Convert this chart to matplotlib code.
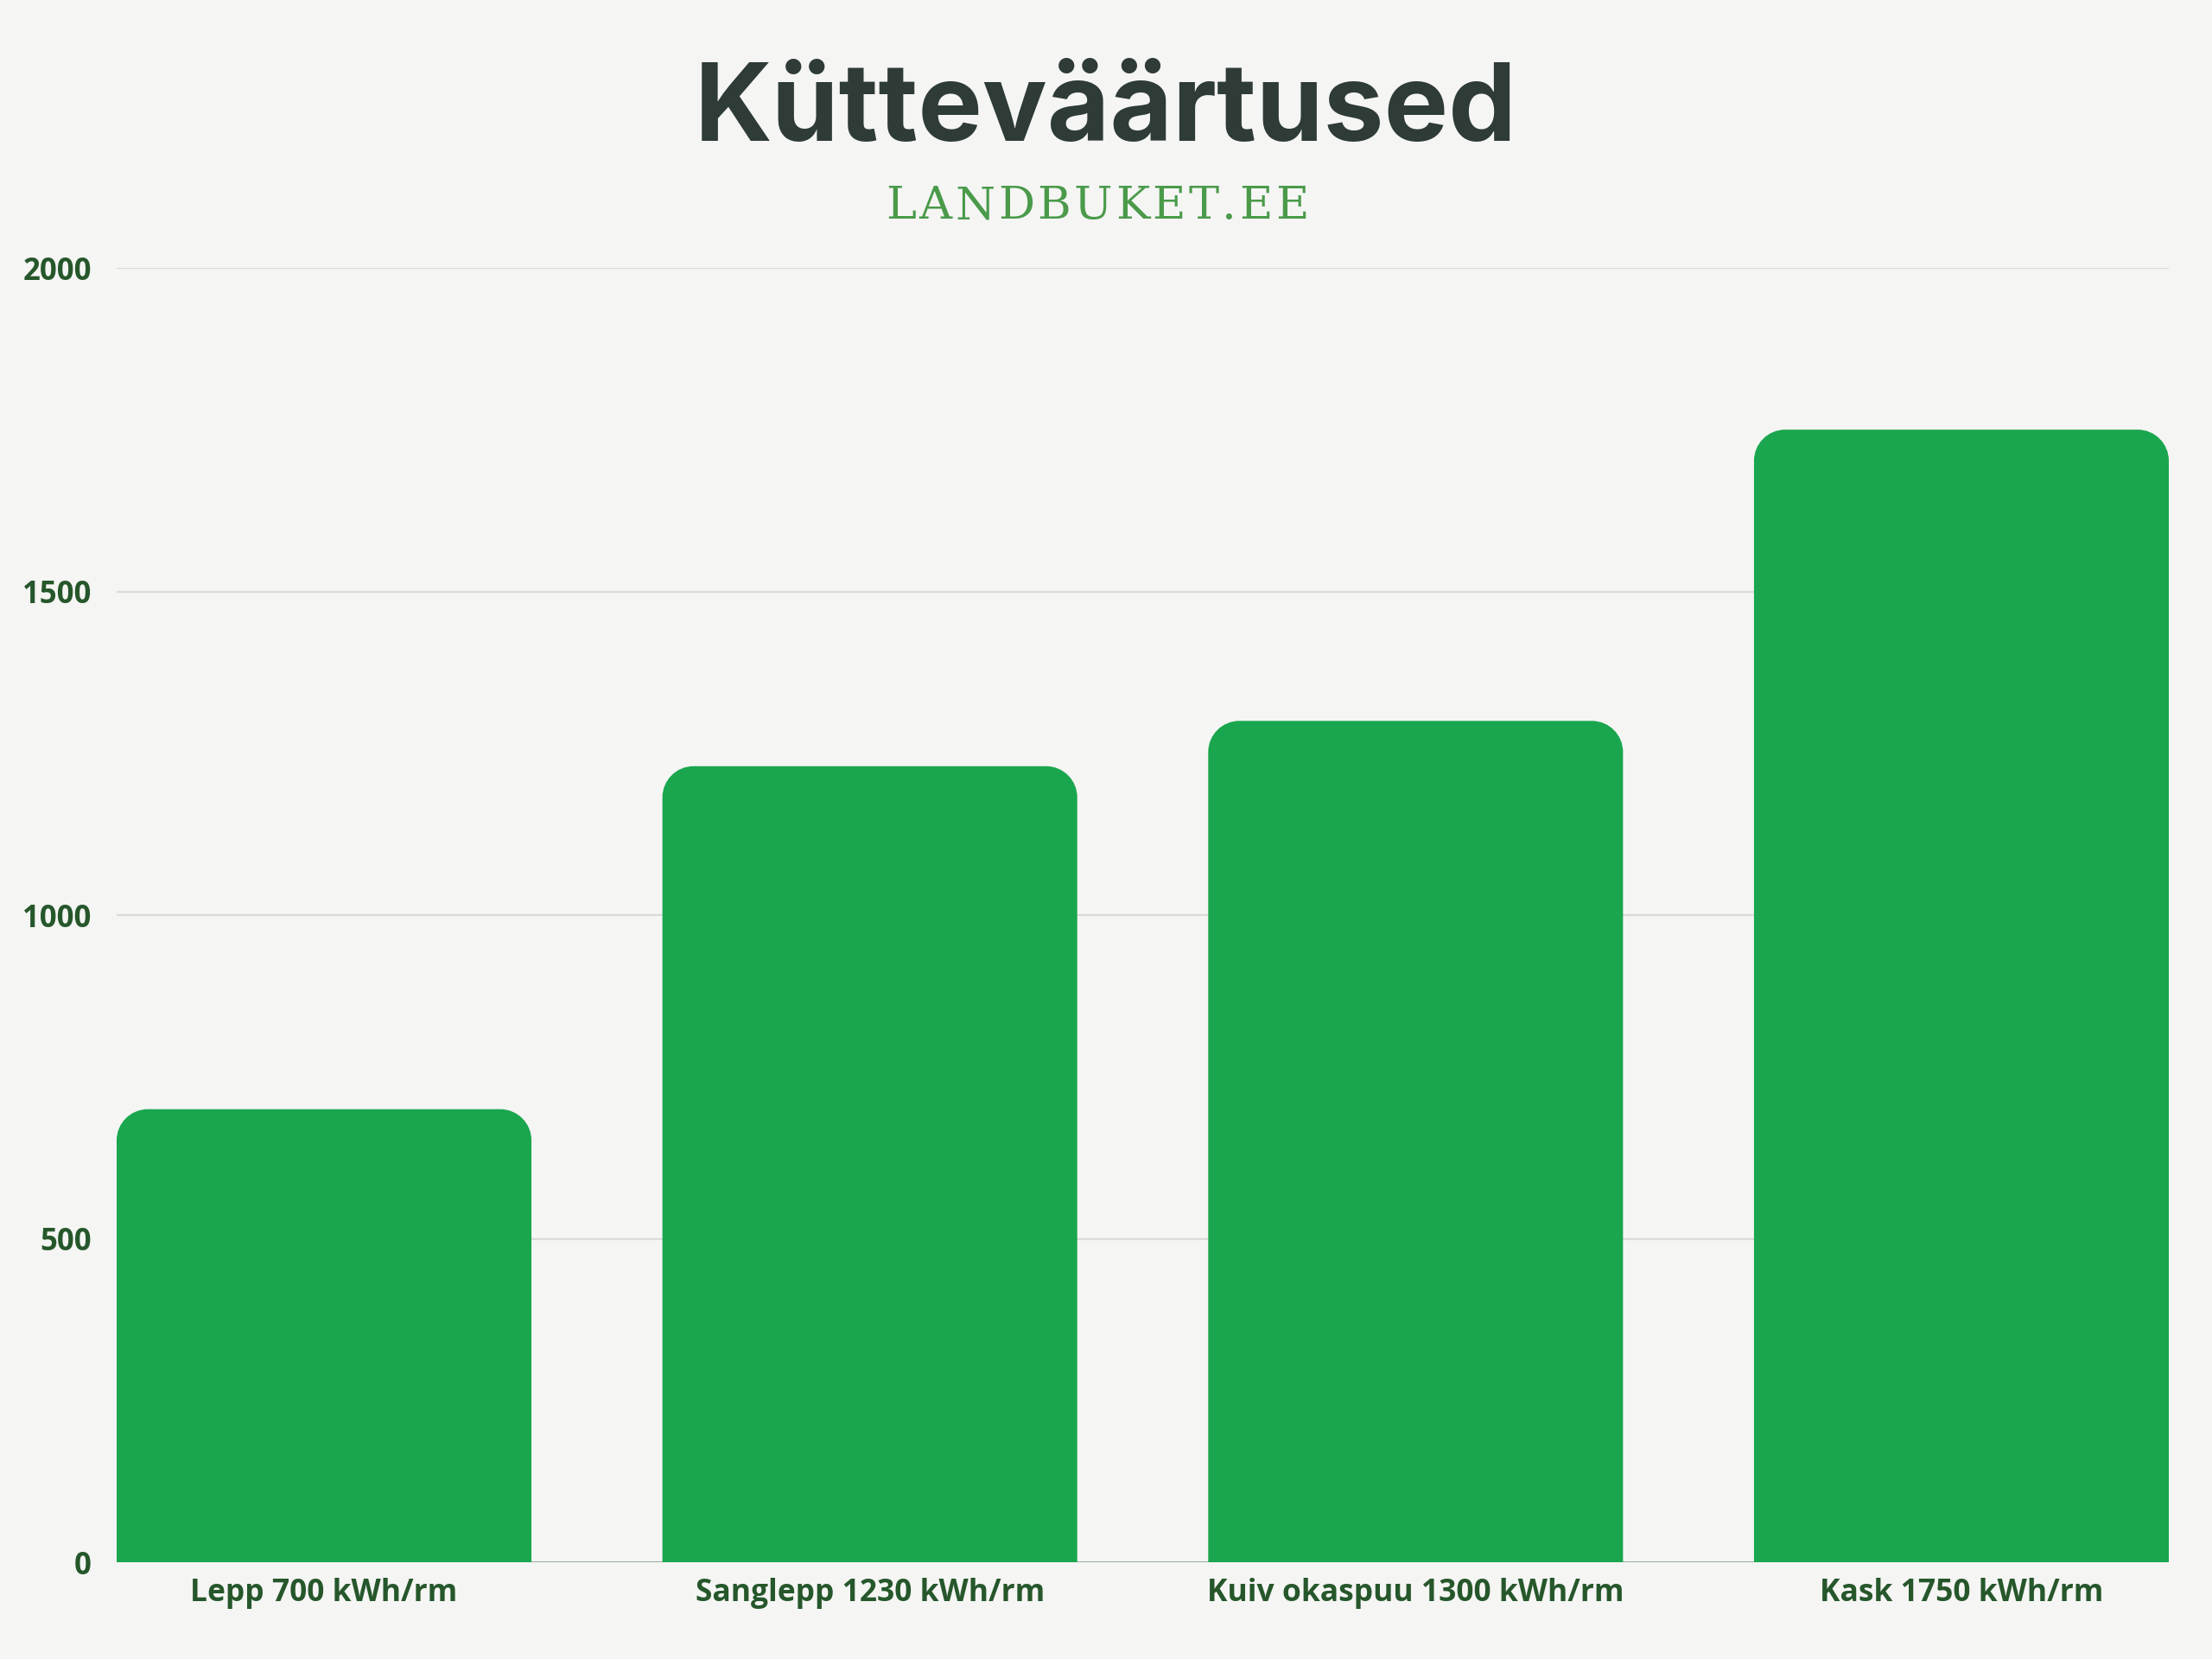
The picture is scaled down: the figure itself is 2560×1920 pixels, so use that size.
import matplotlib.pyplot as plt
from matplotlib.path import Path
from matplotlib.patches import PathPatch

# Data
categories = ["Lepp 700 kWh/rm", "Sanglepp 1230 kWh/rm",
              "Kuiv okaspuu 1300 kWh/rm", "Kask 1750 kWh/rm"]
values = [700, 1230, 1300, 1750]
y_ticks = [0, 500, 1000, 1500, 2000]

title = "Kütteväärtused"
subtitle = "LANDBUKET.EE"

bg = "#f5f5f4"
bar_color = "#1aa64e"
label_color = "#26572b"

fig = plt.figure(figsize=(25.6, 19.2), dpi=100, facecolor=bg)
ax = fig.add_axes([0.05273, 0.05833, 0.92774, 0.78021])
ax.set_facecolor(bg)

width = 0.76
ax.set_xlim(-0.38, len(categories) - 1 + 0.38)
ax.set_ylim(0, 2000)

# rounded top corners, radius given in pixels
r_px = 36
fig.canvas.draw()
renderer = fig.canvas.get_renderer()
bbox = ax.get_window_extent()
px_x = bbox.width / (ax.get_xlim()[1] - ax.get_xlim()[0])
px_y = bbox.height / (ax.get_ylim()[1] - ax.get_ylim()[0])
rx = r_px / px_x
ry = r_px / px_y
k = 0.5523

bars = ax.bar(range(len(values)), values, width=width, color="none", zorder=3)
for b in bars:
    x0 = b.get_x()
    x1 = x0 + b.get_width()
    h = b.get_height()
    verts = [
        (x0, 0), (x0, h - ry),
        (x0, h - ry + k * ry), (x0 + rx - k * rx, h), (x0 + rx, h),
        (x1 - rx, h),
        (x1 - rx + k * rx, h), (x1, h - ry + k * ry), (x1, h - ry),
        (x1, 0), (x0, 0),
    ]
    codes = [Path.MOVETO, Path.LINETO,
             Path.CURVE4, Path.CURVE4, Path.CURVE4,
             Path.LINETO,
             Path.CURVE4, Path.CURVE4, Path.CURVE4,
             Path.LINETO, Path.CLOSEPOLY]
    ax.add_patch(PathPatch(Path(verts, codes), facecolor=bar_color,
                           edgecolor="none", zorder=3))

# grid
for t in y_ticks[1:]:
    ax.axhline(t, color="#d9dbd8", lw=1.6, zorder=1)
ax.axhline(0, color="#9fae9f", lw=2.2, zorder=2)

for s in ax.spines.values():
    s.set_visible(False)

ax.set_yticks(y_ticks)
ax.set_yticklabels([str(t) for t in y_ticks])
ax.set_xticks(range(len(categories)))
ax.set_xticklabels(categories)
ax.tick_params(axis="y", length=0, pad=21, labelcolor=label_color)
ax.tick_params(axis="x", length=0, pad=13, labelcolor=label_color)
for lab in ax.get_yticklabels():
    lab.set_fontfamily("Open Sans")
    lab.set_fontweight("bold")
    lab.set_fontsize(25)
for lab in ax.get_xticklabels():
    lab.set_fontfamily("Open Sans")
    lab.set_fontweight("bold")
    lab.set_fontsize(25.5)

fig.text(0.5, 1 - 163 / 1920, title, ha="center", va="baseline",
         fontfamily="Inter", fontweight="bold", fontsize=90, color="#2e3b36")

# subtitle with wide letter spacing, laid out char by char
sub_left, sub_right = 1025, 1515
items = []
for c in subtitle:
    t = fig.text(0, 1 - 253 / 1920, c, ha="left", va="baseline",
                 fontfamily="DejaVu Serif", fontsize=38, color="#4a9a4a")
    items.append((t, t.get_window_extent(renderer).width))
total = sum(w for _, w in items)
gap = (sub_right - sub_left - total) / (len(items) - 1)
x = sub_left
for t, w in items:
    t.set_x(x / 2560)
    x += w + gap

fig.savefig("out.png", dpi=100, facecolor=bg)
